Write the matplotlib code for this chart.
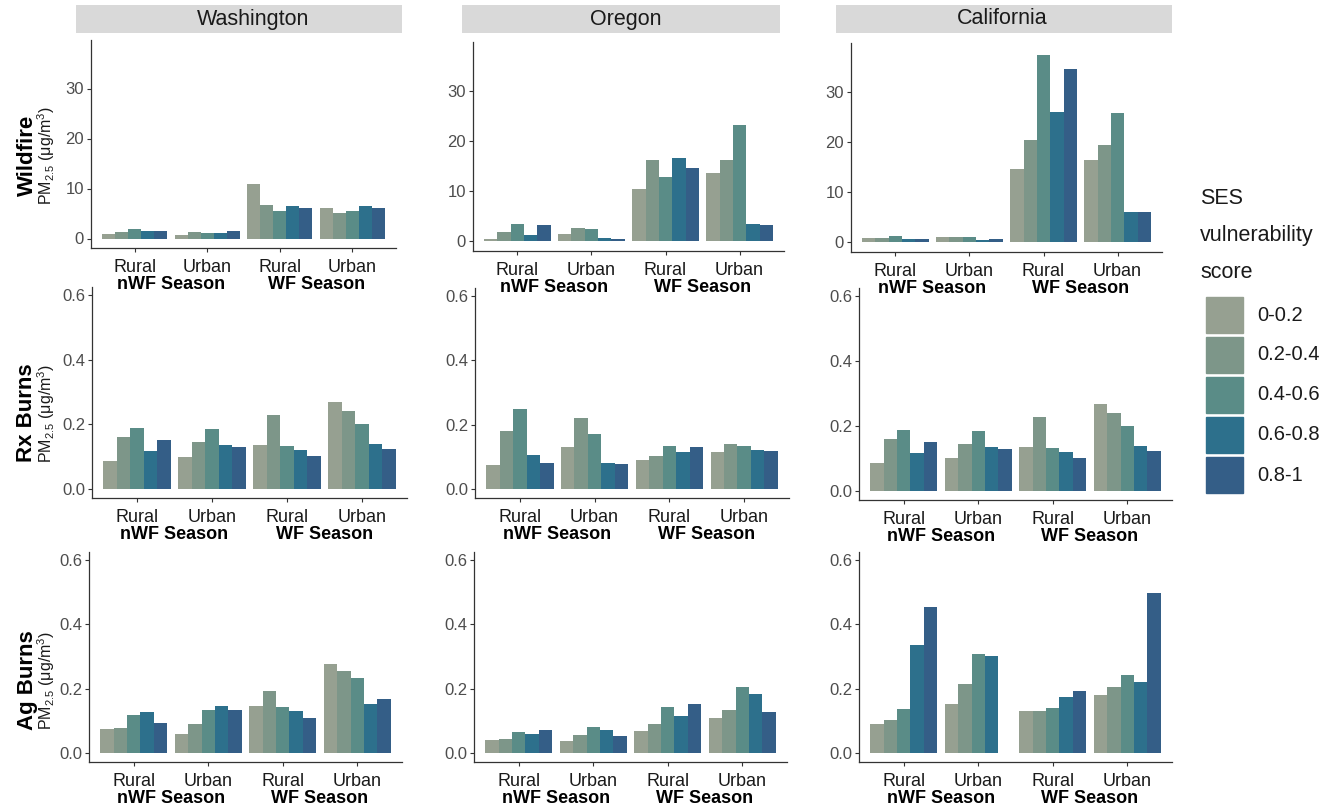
import numpy as np
import matplotlib.pyplot as plt
from matplotlib.patches import Rectangle

plt.rcParams['font.family'] = ['Liberation Sans', 'DejaVu Sans']
plt.rcParams['mathtext.fontset'] = 'custom'
plt.rcParams['mathtext.rm'] = 'Liberation Sans'
plt.rcParams['mathtext.it'] = 'Liberation Sans:italic'
plt.rcParams['mathtext.bf'] = 'Liberation Sans:bold'

states = ['Washington', 'Oregon', 'California']
sources = ['Wildfire', 'Rx Burns', 'Ag Burns']
groups = ['Rural', 'Urban', 'Rural', 'Urban']
seasons = ['nWF Season', 'WF Season']
ses_bins = ['0-0.2', '0.2-0.4', '0.4-0.6', '0.6-0.8', '0.8-1']
colors = ['#96A091', '#7D9689', '#5A8C87', '#2D708C', '#345E87']

# rows: nWF Rural, nWF Urban, WF Rural, WF Urban ; columns: SES bins
wildfire_wa = [[1.0, 1.4, 2.0, 1.6, 1.6],
               [0.7, 1.4, 1.2, 1.2, 1.6],
               [10.9, 6.7, 5.5, 6.5, 6.1],
               [6.2, 5.1, 5.5, 6.6, 6.1]]
wildfire_or = [[0.4, 1.9, 3.4, 1.3, 3.2],
               [1.4, 2.7, 2.4, 0.7, 0.5],
               [10.5, 16.3, 12.9, 16.6, 14.7],
               [13.7, 16.2, 23.1, 3.5, 3.2]]
wildfire_ca = [[0.85, 0.85, 1.3, 0.7, 0.7],
               [1.0, 1.05, 1.0, 0.5, 0.65],
               [14.7, 20.3, 37.3, 26.0, 34.5],
               [16.4, 19.4, 25.7, 6.1, 6.1]]

rx_wa = [[0.087, 0.160, 0.188, 0.117, 0.151],
         [0.100, 0.144, 0.184, 0.135, 0.129],
         [0.136, 0.228, 0.133, 0.121, 0.102],
         [0.268, 0.240, 0.200, 0.138, 0.123]]
rx_or = [[0.075, 0.181, 0.250, 0.106, 0.081],
         [0.130, 0.222, 0.172, 0.081, 0.078],
         [0.091, 0.104, 0.135, 0.116, 0.132],
         [0.114, 0.139, 0.134, 0.121, 0.119]]
rx_ca = [[0.087, 0.161, 0.188, 0.118, 0.152],
         [0.100, 0.144, 0.184, 0.135, 0.129],
         [0.136, 0.228, 0.133, 0.121, 0.102],
         [0.268, 0.240, 0.200, 0.138, 0.123]]

ag_wa = [[0.074, 0.079, 0.119, 0.127, 0.092],
         [0.059, 0.089, 0.135, 0.145, 0.134],
         [0.147, 0.193, 0.143, 0.130, 0.110],
         [0.278, 0.254, 0.233, 0.151, 0.167]]
ag_or = [[0.039, 0.045, 0.064, 0.060, 0.073],
         [0.036, 0.057, 0.081, 0.073, 0.054],
         [0.069, 0.090, 0.142, 0.115, 0.151],
         [0.110, 0.135, 0.206, 0.182, 0.127]]
ag_ca = [[0.091, 0.103, 0.138, 0.336, 0.454],
         [0.152, 0.213, 0.308, 0.302, np.nan],
         [0.131, 0.131, 0.141, 0.174, 0.193],
         [0.181, 0.205, 0.241, 0.222, 0.498]]

panels = [[wildfire_wa, wildfire_or, wildfire_ca],
          [rx_wa, rx_or, rx_ca],
          [ag_wa, ag_or, ag_ca]]

W, H = 1340, 807
fig = plt.figure(figsize=(W / 100, H / 100), dpi=100)


def box(l, r, t, b):
    return [l / W, 1 - b / H, (r - l) / W, (b - t) / H]


# panel boxes in pixels: left, right, top, bottom
pos = [[(91, 396, 40, 248), (473, 784, 42, 251), (851, 1162, 43, 252)],
       [(92, 407, 287, 498), (475, 789, 288, 498), (859, 1172, 288, 500)],
       [(89, 402, 552, 762), (474, 787, 552, 762), (859, 1172, 552, 762)]]
row_mid = [155, 413, 680]
strips = [(76, 402), (462, 780), (836, 1172)]
strip_text_x = [253, 626, 1002]

axis_col = '#333333'
bw = 0.9 / len(ses_bins)

for r in range(3):
    for c in range(3):
        ax = fig.add_axes(box(*pos[r][c]))
        ax.set_facecolor('none')
        vals = np.array(panels[r][c], dtype=float)
        x = np.arange(1, len(groups) + 1)
        for k in range(len(ses_bins)):
            ax.bar(x - 0.45 + k * bw, vals[:, k], width=bw, align='edge',
                   color=colors[k], linewidth=0)
        ax.set_xlim(0.4, 4.6)
        if r == 0:
            ax.set_ylim(-1.9, 39.7)
            ax.set_yticks([0, 10, 20, 30])
            ax.set_yticklabels(['0', '10', '20', '30'])
        else:
            ax.set_ylim(-0.028, 0.625)
            ax.set_yticks([0.0, 0.2, 0.4, 0.6])
            ax.set_yticklabels(['0.0', '0.2', '0.4', '0.6'])
        ax.set_xticks(x)
        ax.set_xticklabels(groups, fontsize=13, color='#1A1A1A')
        for s in ['top', 'right']:
            ax.spines[s].set_visible(False)
        for s in ['left', 'bottom']:
            ax.spines[s].set_color(axis_col)
            ax.spines[s].set_linewidth(0.9)
        ax.tick_params(axis='y', labelsize=12, labelcolor='#4D4D4D',
                       color=axis_col, length=3, width=0.8, pad=2)
        ax.tick_params(axis='x', color=axis_col, length=3, width=0.8, pad=5)
        for i, s in enumerate(seasons):
            ax.annotate(s, xy=(1.5 + 2 * i, 0), xycoords=('data', 'axes fraction'),
                        xytext=(0, -26.5), textcoords='offset points',
                        ha='center', va='center', fontsize=13, fontweight='bold',
                        annotation_clip=False, zorder=10)

# state strips
for c, (l, rr) in enumerate(strips):
    sax = fig.add_axes(box(l, rr, 5, 33))
    sax.add_patch(Rectangle((0, 0), 1, 1, color='#D9D9D9', transform=sax.transAxes))
    sax.axis('off')
    fig.text(strip_text_x[c] / W, 1 - 19 / H, states[c], ha='center', va='center',
             fontsize=15.5, color='#1A1A1A')

# row labels
for r in range(3):
    fig.text(27 / W, 1 - row_mid[r] / H, sources[r], rotation=90, ha='center',
             va='center', fontsize=16, fontweight='bold')
    fig.text(46 / W, 1 - row_mid[r] / H, r'PM$_{2.5}$ (μg/m$^3$)', rotation=90,
             ha='center', va='center', fontsize=11.5, color='#1A1A1A')

# legend
for i, line in enumerate(['SES', 'vulnerability', 'score']):
    fig.text(1200 / W, 1 - (198 + 37 * i) / H, line, ha='left', va='center',
             fontsize=15.5, color='#1A1A1A')
for k, lab in enumerate(ses_bins):
    top = 297 + 40 * k
    fig.patches.append(Rectangle((1206 / W, 1 - (top + 36) / H), 37 / W, 36 / H,
                                 color=colors[k], transform=fig.transFigure))
    fig.text(1257 / W, 1 - (top + 18) / H, lab, ha='left', va='center',
             fontsize=14.5, color='#1A1A1A')

fig.savefig('out.png', dpi=100)
